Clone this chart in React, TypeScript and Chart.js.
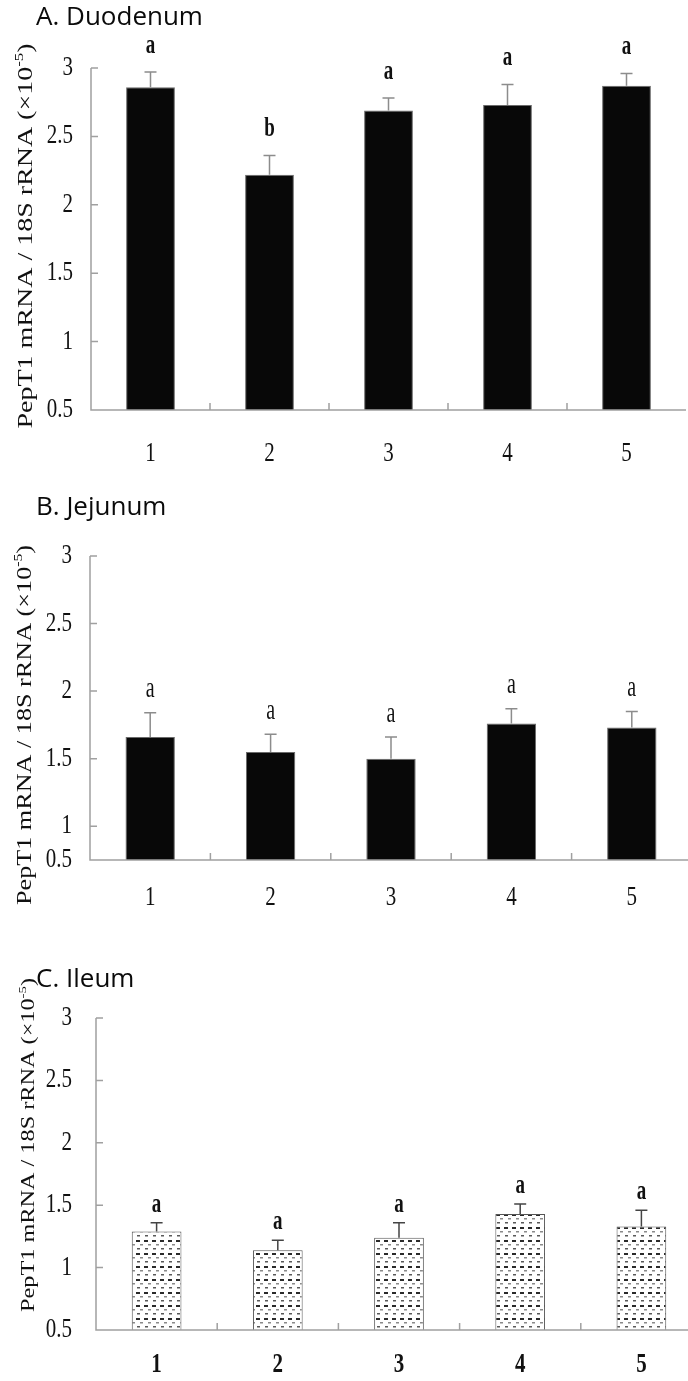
import React, { useEffect, useRef } from 'react';
import { Chart, registerables } from 'chart.js';

Chart.register(...registerables);

// ---------- data ----------
const groups = ['1', '2', '3', '4', '5'];
const tickValues = [0.5, 1, 1.5, 2, 2.5, 3];
const tickLabels = ['0.5', '1', '1.5', '2', '2.5', '3'];

const duodenumMean = [2.86, 2.22, 2.69, 2.73, 2.87];
const duodenumSem = [0.11, 0.14, 0.09, 0.15, 0.09];
const duodenumLetters = ['a', 'b', 'a', 'a', 'a'];

const jejunumMean = [1.66, 1.55, 1.5, 1.76, 1.73];
const jejunumSem = [0.18, 0.13, 0.16, 0.11, 0.12];
const jejunumLetters = ['a', 'a', 'a', 'a', 'a'];

const ileumMean = [1.29, 1.14, 1.24, 1.43, 1.33];
const ileumSem = [0.07, 0.08, 0.12, 0.08, 0.13];
const ileumLetters = ['a', 'a', 'a', 'a', 'a'];

const yTitleMain = 'PepT1 mRNA / 18S rRNA (\u00d710';
const yTitleSup = '-5';
const yTitleEnd = ')';

const SERIF = '"Liberation Serif", "Times New Roman", serif';
const SANS = '"Open Sans", "Noto Sans", sans-serif';
const CANVAS_W = 710;

type Panel = {
  key: string;
  title: string;
  mean: number[];
  sem: number[];
  letters: string[];
  top: number;
  height: number;
  area: { left: number; top: number; right: number; bottom: number };
  yMin: number;
  tickAt: number[];
  titleY: number;
  yTitle: { cx: number; cy: number; len: number; size: number };
  tickLabelGap: number;
  xLabelY: number;
  xLabelWeight: string;
  letterGap: number;
  letterFont: string;
  letterSy: number;
  errColor: string;
  barBorder: string;
  pattern: boolean;
};

// all geometry below is local to each panel canvas
const panels: Panel[] = [
  {
    key: 'A',
    title: 'A. Duodenum',
    mean: duodenumMean,
    sem: duodenumSem,
    letters: duodenumLetters,
    top: 0,
    height: 480,
    area: { left: 91, top: 68, right: 686, bottom: 410 },
    yMin: 0.5,
    tickAt: tickValues,
    titleY: 25,
    yTitle: { cx: 25, cy: 236, len: 385, size: 20 },
    tickLabelGap: 18,
    xLabelY: 454,
    xLabelWeight: '',
    letterGap: 26,
    letterFont: `bold 19px ${SERIF}`,
    letterSy: 1.4,
    errColor: '#8c8c8c',
    barBorder: '#6a6a6a',
    pattern: false,
  },
  {
    key: 'B',
    title: 'B. Jejunum',
    mean: jejunumMean,
    sem: jejunumSem,
    letters: jejunumLetters,
    top: 480,
    height: 450,
    area: { left: 90, top: 76, right: 692, bottom: 380 },
    yMin: 0.75,
    tickAt: [0.75, 1, 1.5, 2, 2.5, 3],
    titleY: 35,
    yTitle: { cx: 24, cy: 245, len: 360, size: 20 },
    tickLabelGap: 18,
    xLabelY: 418,
    xLabelWeight: '',
    letterGap: 23,
    letterFont: `20px ${SERIF}`,
    letterSy: 1.45,
    errColor: '#8c8c8c',
    barBorder: '#6a6a6a',
    pattern: false,
  },
  {
    key: 'C',
    title: 'C. Ileum',
    mean: ileumMean,
    sem: ileumSem,
    letters: ileumLetters,
    top: 940,
    height: 441,
    area: { left: 96, top: 78, right: 702, bottom: 390 },
    yMin: 0.5,
    tickAt: tickValues,
    titleY: 47,
    yTitle: { cx: 28, cy: 205, len: 334, size: 18 },
    tickLabelGap: 24,
    xLabelY: 425,
    xLabelWeight: 'bold ',
    letterGap: 18,
    letterFont: `bold 19px ${SERIF}`,
    letterSy: 1.4,
    errColor: '#444',
    barBorder: '#555',
    pattern: true,
  },
];

// ---------- drawing helpers ----------
function drawText(
  ctx: CanvasRenderingContext2D,
  text: string,
  x: number,
  y: number,
  font: string,
  align: CanvasTextAlign,
  sy: number,
  color: string,
  sx = 1
) {
  ctx.save();
  ctx.translate(x, y);
  ctx.scale(sx, sy);
  ctx.font = font;
  ctx.textAlign = align;
  ctx.textBaseline = 'middle';
  ctx.fillStyle = color;
  ctx.fillText(text, 0, 0);
  ctx.restore();
}

function drawYTitle(ctx: CanvasRenderingContext2D, cx: number, cy: number, len: number, size: number) {
  ctx.save();
  ctx.translate(cx, cy);
  ctx.rotate(-Math.PI / 2);
  const f1 = `${size}px ${SERIF}`;
  const f2 = `${Math.round(size * 0.62)}px ${SERIF}`;
  ctx.font = f1;
  const w1 = ctx.measureText(yTitleMain).width;
  const w3 = ctx.measureText(yTitleEnd).width;
  ctx.font = f2;
  const w2 = ctx.measureText(yTitleSup).width;
  const total = w1 + w2 + w3;
  ctx.scale(len / total, 1);
  ctx.fillStyle = '#111';
  ctx.textAlign = 'left';
  ctx.textBaseline = 'alphabetic';
  const base = size * 0.33;
  let xx = -total / 2;
  ctx.font = f1;
  ctx.fillText(yTitleMain, xx, base);
  xx += w1;
  ctx.font = f2;
  ctx.fillText(yTitleSup, xx, base - size * 0.42);
  xx += w2;
  ctx.font = f1;
  ctx.fillText(yTitleEnd, xx, base);
  ctx.restore();
}

function makeDashPattern(ctx: CanvasRenderingContext2D) {
  const c = document.createElement('canvas');
  c.width = 8;
  c.height = 13;
  const g = c.getContext('2d')!;
  g.fillStyle = '#ffffff';
  g.fillRect(0, 0, 8, 13);
  g.fillStyle = '#2a2a2a';
  g.fillRect(0, 1, 4, 2);
  g.fillStyle = '#8a8a8a';
  g.fillRect(4, 5, 3, 1.5);
  g.fillStyle = '#5a5a5a';
  g.fillRect(1, 9, 3, 1.5);
  return ctx.createPattern(c, 'repeat');
}

function makeDecor(p: Panel) {
  return {
    id: 'decor' + p.key,
    afterDatasetsDraw(chart: any) {
      const ctx: CanvasRenderingContext2D = chart.ctx;
      const y = chart.scales.y;
      const meta = chart.getDatasetMeta(0);
      ctx.save();
      ctx.strokeStyle = p.errColor;
      ctx.lineWidth = 1.5;
      p.mean.forEach((m, i) => {
        const bar = meta.data[i];
        const x = bar.x;
        const y0 = y.getPixelForValue(m);
        const y1 = y.getPixelForValue(m + p.sem[i]);
        ctx.beginPath();
        ctx.moveTo(x, y0);
        ctx.lineTo(x, y1);
        ctx.moveTo(x - 6, y1);
        ctx.lineTo(x + 6, y1);
        ctx.stroke();
        drawText(ctx, p.letters[i], x, y1 - p.letterGap, p.letterFont, 'center', p.letterSy, '#111');
      });
      ctx.restore();
    },
    afterDraw(chart: any) {
      const ctx: CanvasRenderingContext2D = chart.ctx;
      const a = chart.chartArea;
      const y = chart.scales.y;
      const x = chart.scales.x;
      ctx.save();
      // axis lines
      ctx.strokeStyle = '#a0a0a0';
      ctx.lineWidth = 1.5;
      ctx.beginPath();
      ctx.moveTo(a.left, a.top);
      ctx.lineTo(a.left, a.bottom);
      ctx.lineTo(a.right, a.bottom);
      // y ticks (inward)
      p.tickAt.forEach((v) => {
        const py = y.getPixelForValue(v);
        ctx.moveTo(a.left, py);
        ctx.lineTo(a.left + 7, py);
      });
      // x ticks between categories (inward)
      for (let i = 1; i < groups.length; i++) {
        const px = (x.getPixelForValue(i - 1) + x.getPixelForValue(i)) / 2;
        ctx.moveTo(px, a.bottom);
        ctx.lineTo(px, a.bottom - 7);
      }
      ctx.stroke();
      // y tick labels
      p.tickAt.forEach((v, i) => {
        const py = y.getPixelForValue(v);
        drawText(ctx, tickLabels[i], a.left - p.tickLabelGap, py, `21px ${SERIF}`, 'right', 1.28, '#111');
      });
      // x labels
      groups.forEach((g, i) => {
        drawText(ctx, g, x.getPixelForValue(i), p.xLabelY, `${p.xLabelWeight}21px ${SERIF}`, 'center', 1.28, '#111');
      });
      // y title
      drawYTitle(ctx, p.yTitle.cx, p.yTitle.cy, p.yTitle.len, p.yTitle.size);
      // panel title
      ctx.font = `26px ${SANS}`;
      ctx.fillStyle = '#0a0a0a';
      ctx.textAlign = 'left';
      ctx.textBaseline = 'alphabetic';
      ctx.fillText(p.title, 36, p.titleY);
      ctx.restore();
    },
  };
}

function PanelChart({ p }: { p: Panel }) {
  const ref = useRef<HTMLCanvasElement | null>(null);
  useEffect(() => {
    const canvas = ref.current!;
    const ctx = canvas.getContext('2d')!;
    const fill = p.pattern ? makeDashPattern(ctx) : '#080808';
    const chart = new Chart(canvas, {
      type: 'bar',
      data: {
        labels: groups,
        datasets: [
          {
            data: p.mean,
            backgroundColor: fill as any,
            borderColor: p.barBorder,
            borderWidth: 1,
            barPercentage: 0.41,
            categoryPercentage: 1,
          },
        ],
      },
      options: {
        responsive: false,
        animation: false,
        events: [],
        layout: {
          padding: {
            left: p.area.left,
            top: p.area.top,
            right: CANVAS_W - p.area.right,
            bottom: p.height - p.area.bottom,
          },
        },
        plugins: {
          legend: { display: false },
          tooltip: { enabled: false },
          title: { display: false },
        },
        scales: {
          x: {
            grid: { display: false },
            border: { display: false },
            ticks: { display: false },
            afterFit: (s: any) => {
              s.height = 0;
            },
          },
          y: {
            min: p.yMin,
            max: 3,
            grid: { display: false },
            border: { display: false },
            ticks: { display: false },
            afterFit: (s: any) => {
              s.width = 0;
            },
          },
        },
      },
      plugins: [makeDecor(p)],
    });
    return () => chart.destroy();
  }, [p]);
  return (
    <canvas
      ref={ref}
      width={CANVAS_W}
      height={p.height}
      style={{ position: 'absolute', left: 0, top: p.top, width: CANVAS_W, height: p.height }}
    />
  );
}

export default function App() {
  return (
    <div
      style={{
        position: 'absolute',
        left: 0,
        top: 0,
        width: 688,
        height: 1381,
        overflow: 'hidden',
        background: '#ffffff',
      }}
    >
      {panels.map((p) => (
        <PanelChart key={p.key} p={p} />
      ))}
    </div>
  );
}
